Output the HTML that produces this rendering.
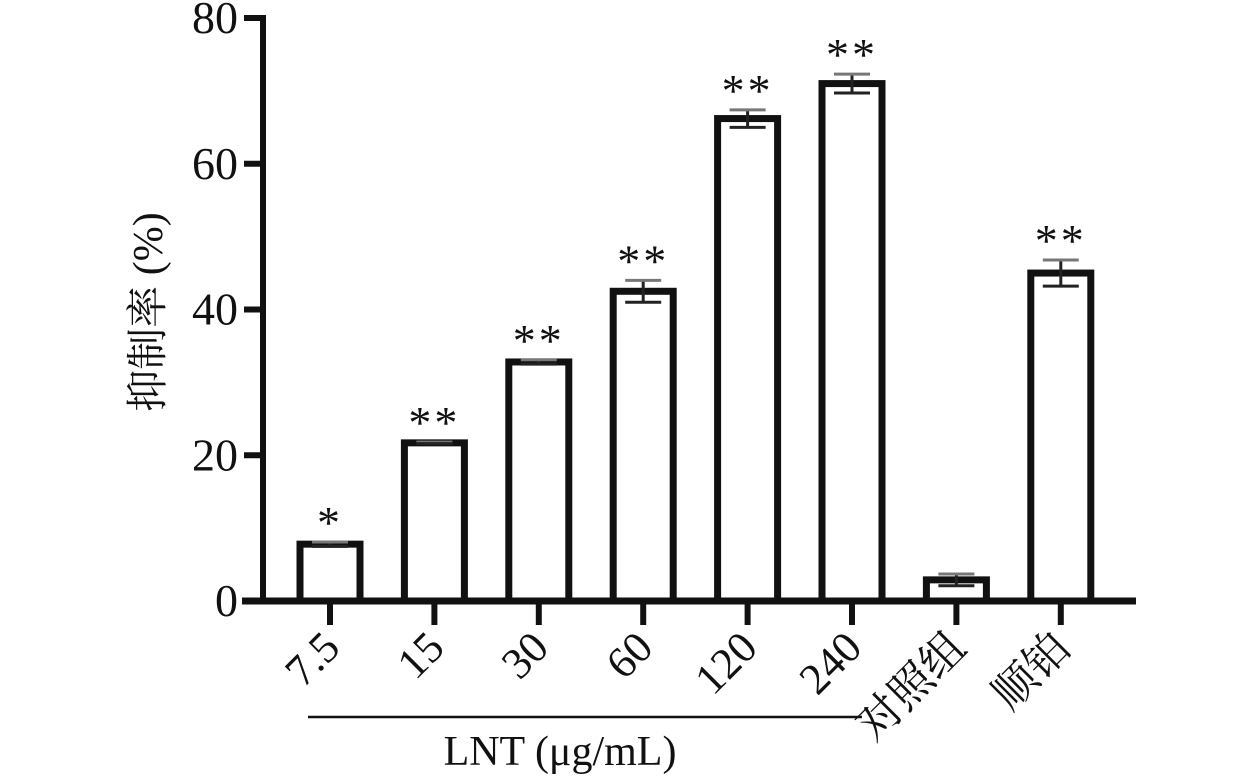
<!DOCTYPE html>
<html><head><meta charset="utf-8"><style>
html,body{margin:0;padding:0;background:#fff;width:1260px;height:779px;overflow:hidden}
svg text{font-family:"Liberation Serif",serif;fill:#111}
svg text.cjk{font-family:"Liberation Serif","Noto Serif CJK SC",serif}
</style></head><body>
<svg id="chart" width="1260" height="779" xmlns="http://www.w3.org/2000/svg"></svg>
<script>
const categories=["7.5","15","30","60","120","240","对照组","顺铂"];
const values=[7.8,21.7,32.8,42.5,66.2,71.0,2.9,45.0];
const errors=[0.3,0.1,0.3,1.5,1.2,1.3,0.8,1.8];
const stars=["*","**","**","**","**","**","","**"];
const yTicks=[0,20,40,60,80];
const svg=document.getElementById('chart');
const NS="http://www.w3.org/2000/svg";
const y0=601,y80=18;
function y(v){return y0-(v/80)*(y0-y80);}
function x(i){return 330+i*104.4;}
function mk(tag,attrs,parent){const e=document.createElementNS(NS,tag);for(const k in attrs)e.setAttribute(k,attrs[k]);(parent||svg).appendChild(e);return e;}
categories.forEach((c,i)=>{
  const cx=x(i),w=60,top=y(values[i]);
  const r=mk('rect',{x:cx-w/2,y:top,width:w,height:y0-top,fill:'#fff',stroke:'#111','stroke-width':7});
  
  
  const e=errors[i];
  const g=mk('g',{stroke:'#222','stroke-width':3});
  
  
  mk('line',{x1:cx,x2:cx,y1:y(values[i]+e),y2:y(values[i]-e)},g);
  mk('line',{x1:cx-18,x2:cx+18,y1:y(values[i]+e),y2:y(values[i]+e),stroke:'#777'},g);
  mk('line',{x1:cx-18,x2:cx+18,y1:y(values[i]-e),y2:y(values[i]-e)},g);
  if(stars[i]){
    const t=mk('text',{x:cx,y:y(values[i]+e)-4,'text-anchor':'middle','font-size':46,'letter-spacing':3});
    t.textContent=stars[i];
    
    
  }
  const tk=mk('line',{x1:cx,x2:cx,y1:y0,y2:625,stroke:'#111','stroke-width':6});
  
  
  const lb=mk('text',{x:0,y:0,'text-anchor':'end','font-size':44,'class':'cjk',transform:`translate(${cx+12},${650}) rotate(-45)`});
  lb.textContent=c;
  
  
});
const ya=mk('line',{x1:263,x2:263,y1:15,y2:604,stroke:'#111','stroke-width':6});


const xa=mk('line',{x1:242,x2:1136,y1:601,y2:601,stroke:'#111','stroke-width':7});


yTicks.forEach(v=>{
  const l=mk('line',{x1:244,x2:263,y1:y(v),y2:y(v),stroke:'#111','stroke-width':6});
  
  
  const t=mk('text',{x:238,y:y(v)+15,'text-anchor':'end','font-size':46});
  t.textContent=v;
  
  
});
const yt=mk('text',{x:0,y:0,'text-anchor':'middle','font-size':42,'class':'cjk',transform:'translate(162,312) rotate(-90)'});
yt.textContent='抑制率 (%)';


const ul=mk('line',{x1:308,x2:862,y1:717,y2:717,stroke:'#111','stroke-width':2.5});


const xt=mk('text',{x:560,y:765,'text-anchor':'middle','font-size':42});
xt.textContent='LNT (μg/mL)';


</script>
</body></html>
